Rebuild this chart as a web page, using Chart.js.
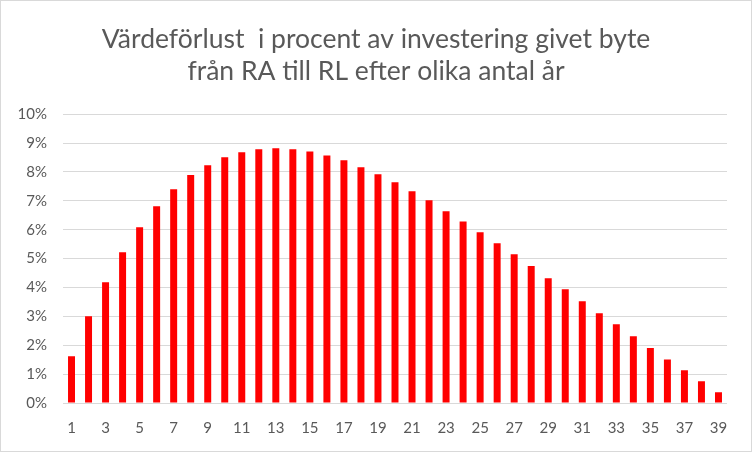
<!DOCTYPE html>
<html>
<head>
<meta charset="utf-8">
<script src="https://cdn.jsdelivr.net/npm/chart.js@4"></script>
<style>
html,body{margin:0;padding:0;background:#fff;}
canvas{display:block;}
</style>
</head>
<body>
<canvas id="c" width="752" height="452"></canvas>
<script>
const titleLines = ["Värdeförlust  i procent av investering givet byte", "från RA till RL efter olika antal år"];
const years = [];
for (let i = 1; i <= 39; i++) years.push(String(i));
const lossPct = [1.62, 3.00, 4.18, 5.22, 6.08, 6.81, 7.40, 7.89, 8.23, 8.51,
                 8.68, 8.78, 8.82, 8.78, 8.71, 8.57, 8.40, 8.16, 7.92, 7.64,
                 7.33, 7.02, 6.64, 6.28, 5.91, 5.53, 5.15, 4.74, 4.32, 3.94,
                 3.52, 3.11, 2.73, 2.31, 1.90, 1.51, 1.13, 0.75, 0.37];
const yMin = 0, yMax = 10, yStep = 1;

const frame = {
  id: 'frame',
  beforeDraw(chart) {
    const ctx = chart.ctx;
    ctx.save();
    ctx.fillStyle = '#fff';
    ctx.fillRect(0, 0, chart.width, chart.height);
    ctx.restore();
  },
  afterDraw(chart) {
    const ctx = chart.ctx;
    ctx.save();
    ctx.strokeStyle = '#d9d9d9';
    ctx.lineWidth = 1;
    ctx.strokeRect(0.5, 0.5, chart.width - 1, chart.height - 1);
    ctx.restore();
  }
};

new Chart(document.getElementById('c'), {
  type: 'bar',
  data: {
    labels: years,
    datasets: [{
      data: lossPct,
      backgroundColor: '#ff0000',
      borderWidth: 0,
      barPercentage: 0.41,
      categoryPercentage: 1.0
    }]
  },
  options: {
    responsive: false,
    animation: false,
    devicePixelRatio: 1,
    layout: { padding: { left: 0, right: 0, top: 0, bottom: 0 } },
    plugins: {
      legend: { display: false },
      tooltip: { enabled: false },
      title: {
        display: true,
        text: titleLines,
        color: '#595959',
        font: { family: 'Lato', size: 26.5, weight: 'normal', lineHeight: 1.21 },
        padding: { top: 23, bottom: 27 }
      }
    },
    scales: {
      x: {
        grid: { display: false, drawTicks: false },
        border: { display: false },
        ticks: {
          color: '#595959',
          font: { family: 'Lato', size: 15 },
          padding: 16,
          autoSkip: false,
          maxRotation: 0,
          callback: function (v, i) { return i % 2 === 0 ? years[i] : ''; }
        },
        afterFit(s) { s.height = 452 - 403; }
      },
      y: {
        min: yMin, max: yMax,
        grid: { color: '#d9d9d9', lineWidth: 1, drawTicks: false },
        border: { display: false },
        ticks: {
          stepSize: yStep,
          color: '#595959',
          font: { family: 'Lato', size: 15 },
          padding: 16,
          callback: v => v + '%'
        },
        afterFit(s) { s.width = 63; }
      },
      yRight: {
        position: 'right',
        min: yMin, max: yMax,
        grid: { display: false, drawTicks: false },
        border: { display: false },
        ticks: { display: false },
        afterFit(s) { s.width = 25; }
      }
    }
  },
  plugins: [frame]
});
</script>
</body>
</html>
